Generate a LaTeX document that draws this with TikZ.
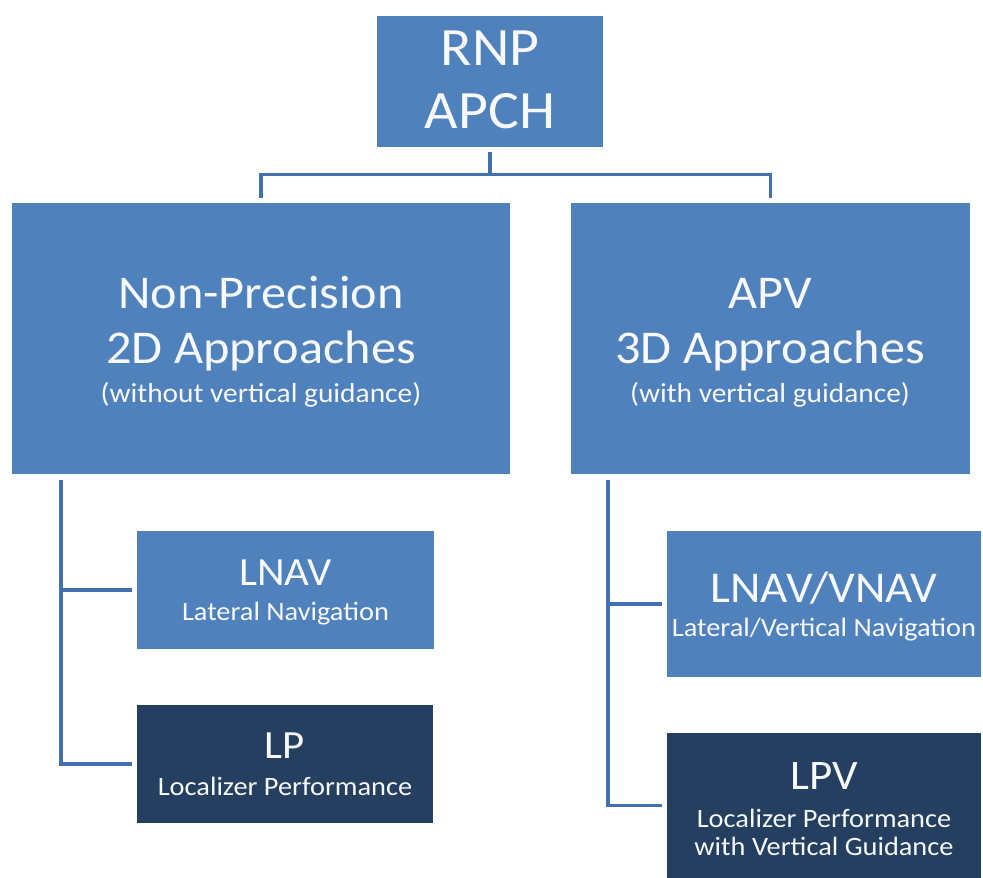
\documentclass[tikz,border=0pt]{standalone}
\usepackage{fontspec}
\setmainfont{Carlito}[FakeStretch=1.07]
\definecolor{boxblue}{HTML}{4F81BD}
\definecolor{boxdark}{HTML}{243F60}
\definecolor{connblue}{HTML}{4271B0}
\definecolor{txtwhite}{HTML}{F7F9FC}
\begin{document}
\begin{tikzpicture}[x=1pt,y=-1pt,
  box/.style={fill=boxblue, draw=none, inner sep=0pt, anchor=north west},
  darkbox/.style={box, fill=boxdark},
  txt/.style={anchor=base, text=txtwhite, inner sep=0pt},
  conn/.style={draw=connblue, line width=3.5pt, line join=miter},
  hsize/.style={font=\fontsize{54}{54}\selectfont},
  bsize/.style={font=\fontsize{47}{47}\selectfont},
  msize/.style={font=\fontsize{40}{40}\selectfont},
  ssize/.style={font=\fontsize{26.5}{26.5}\selectfont}]
\fill[white] (0,0) rectangle (983,878);
\useasboundingbox (0,0) rectangle (983,878);

% boxes
\node[box, minimum width=226pt, minimum height=131pt] (root) at (377,16) {};
\node[box, minimum width=498pt, minimum height=271pt] (left) at (12,203) {};
\node[box, minimum width=399pt, minimum height=271pt] (right) at (571,203) {};
\node[box, minimum width=297pt, minimum height=118pt] (lnav) at (137,531) {};
\node[darkbox, minimum width=296pt, minimum height=118pt] (lp) at (137,705) {};
\node[box, minimum width=314pt, minimum height=146pt] (lvnav) at (667,531) {};
\node[darkbox, minimum width=314pt, minimum height=145pt] (lpv) at (667,733) {};

% texts
\node[txt, hsize] (t1) at (490,65) {RNP};
\node[txt, hsize] (t2) at (490,128) {APCH};

\node[txt, bsize] (t3) at (261,308) {Non-Precision};
\node[txt, bsize] (t4) at (261,363) {2D Approaches};
\node[txt, ssize, font=\fontsize{27.5}{27.5}\selectfont] (t5) at (261,402) {(without vertical guidance)};

\node[txt, bsize] (t6) at (770,308) {APV};
\node[txt, bsize] (t7) at (770,363) {3D Approaches};
\node[txt, ssize, font=\fontsize{27.5}{27.5}\selectfont] (t8) at (770,402) {(with vertical guidance)};

\node[txt, msize] (t9) at (285.5,585) {LNAV};
\node[txt, ssize] (t10) at (285.5,620) {Lateral Navigation};

\node[txt, msize] (t11) at (285,758) {LP};
\node[txt, ssize] (t12) at (285,795) {Localizer Performance};

\node[txt, font=\fontsize{44}{44}\selectfont] (t13) at (824,602) {LNAV/VNAV};
\node[txt, ssize] (t14) at (824,636) {Lateral/Vertical Navigation};

\node[txt, font=\fontsize{42}{42}\selectfont] (t15) at (824,789) {LPV};
\node[txt, ssize] (t16) at (824,827) {Localizer Performance};
\node[txt, ssize] (t17) at (824,855) {with Vertical Guidance};

% connectors
\draw[conn, shorten <=5pt, shorten >=5pt] (root.south) -- ++(0,27) -| (left.north);
\draw[conn, shorten <=5pt, shorten >=5pt] (root.south) -- ++(0,27) -| (right.north);

\coordinate (ltrunk) at ([xshift=49pt]left.south west);
\coordinate (rtrunk) at ([xshift=37pt]right.south west);
\draw[conn, shorten >=5pt] ([yshift=-6pt]ltrunk) |- (lnav.west);
\draw[conn, shorten >=5pt] ([yshift=-6pt]ltrunk) |- (lp.west);
\draw[conn, shorten >=5pt] ([yshift=-6pt]rtrunk) |- (lvnav.west);
\draw[conn, shorten >=5pt] ([yshift=-6pt]rtrunk) |- (lpv.west);
\end{tikzpicture}
\end{document}
